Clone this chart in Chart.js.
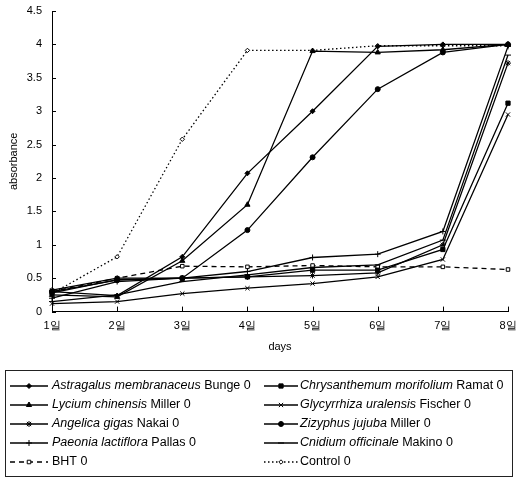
<!DOCTYPE html>
<html>
<head>
<meta charset="utf-8">
<script src="https://cdn.jsdelivr.net/npm/chart.js@4.4.0/dist/chart.umd.min.js"></script>
<style>
  html, body { margin: 0; padding: 0; background: #fff; }
  #wrap { width: 516px; height: 481px; position: relative; }
</style>
</head>
<body>
<div id="wrap"><canvas id="absChart"></canvas></div>
<script>
// Data (absorbance per day)
const days = ["1일", "2일", "3일", "4일", "5일", "6일", "7일", "8일"];
const yTicks = [0, 0.5, 1, 1.5, 2, 2.5, 3, 3.5, 4, 4.5];

const astragalus    = [0.30, 0.24, 0.82, 2.07, 3.00, 3.97, 4.00, 4.00];
const chrysanthemum = [0.28, 0.48, 0.50, 0.52, 0.62, 0.62, 0.93, 3.12];
const lycium        = [0.25, 0.22, 0.76, 1.60, 3.90, 3.88, 3.92, 4.00];
const glycyrrhiza   = [0.12, 0.15, 0.27, 0.35, 0.42, 0.52, 0.78, 2.95];
const angelica      = [0.32, 0.50, 0.50, 0.52, 0.54, 0.58, 1.00, 3.72];
const zizyphus      = [0.30, 0.47, 0.50, 1.22, 2.31, 3.33, 3.88, 4.00];
const paeonia       = [0.20, 0.45, 0.50, 0.60, 0.81, 0.86, 1.20, 3.97];
const cnidium       = [0.15, 0.25, 0.45, 0.55, 0.66, 0.70, 1.07, 3.84];
const bht           = [0.30, 0.50, 0.68, 0.67, 0.69, 0.67, 0.67, 0.63];
const control       = [0.27, 0.82, 2.58, 3.91, 3.91, 3.98, 3.98, 3.98];

// legend text: [italic part, plain part]
const names = [
  ["Astragalus membranaceus", " Bunge 0"],
  ["Chrysanthemum morifolium", " Ramat 0"],
  ["Lycium chinensis", " Miller 0"],
  ["Glycyrrhiza uralensis", " Fischer 0"],
  ["Angelica gigas", " Nakai 0"],
  ["Zizyphus jujuba", " Miller 0"],
  ["Paeonia lactiflora", " Pallas 0"],
  ["Cnidium officinale", " Makino 0"],
  ["", "BHT 0"],
  ["", "Control 0"],
];

const FONT = "'Liberation Sans', Arial, sans-serif";

function series(data, i, style, radius, fill, dash) {
  return {
    label: names[i][0] + names[i][1],
    data: data,
    borderColor: "#000",
    backgroundColor: fill,
    borderWidth: 1.3,
    borderDash: dash || [],
    pointStyle: style,
    pointRadius: radius,
    pointBorderColor: "#000",
    pointBackgroundColor: fill,
    pointBorderWidth: 1,
    tension: 0,
  };
}

const datasets = [
  series(astragalus, 0, "rectRot", 2.5, "#000"),
  series(chrysanthemum, 1, "rect", 3, "#000"),
  series(lycium, 2, "triangle", 3, "#000"),
  series(glycyrrhiza, 3, "crossRot", 3, "#000"),
  series(angelica, 4, "star", 3, "#000"),
  series(zizyphus, 5, "circle", 2.5, "#000"),
  series(paeonia, 6, "cross", 3, "#000"),
  series(cnidium, 7, "line", 3, "#000"),
  series(bht, 8, "rect", 2.5, "#fff", [5, 4]),
  series(control, 9, "rectRot", 2.2, "#fff", [1.5, 2.5]),
];

// small inward tick marks on both axes
const innerTicks = {
  id: "innerTicks",
  afterDraw(chart) {
    const ctx = chart.ctx;
    const xs = chart.scales.x, ys = chart.scales.y;
    ctx.save();
    ctx.strokeStyle = "#000";
    ctx.lineWidth = 1;
    ctx.beginPath();
    xs.ticks.forEach((t, i) => {
      const px = Math.round(xs.getPixelForTick(i)) + 0.5;
      ctx.moveTo(px, ys.bottom);
      ctx.lineTo(px, ys.bottom - 5);
    });
    ys.ticks.forEach((t, i) => {
      const py = Math.round(ys.getPixelForTick(i)) + 0.5;
      ctx.moveTo(xs.left, py);
      ctx.lineTo(xs.left + 4, py);
    });
    ctx.stroke();
    ctx.restore();
  },
};

// boxed two-column legend with line + marker samples
const boxLegend = {
  id: "boxLegend",
  afterDraw(chart) {
    const ctx = chart.ctx;
    const box = { x: 5.5, y: 370.5, w: 507, h: 106 };
    ctx.save();
    ctx.strokeStyle = "#222";
    ctx.lineWidth = 1;
    ctx.strokeRect(box.x, box.y, box.w, box.h);
    const cols = [{ x0: 10, x1: 48, tx: 52 }, { x0: 264, x1: 298, tx: 300 }];
    chart.data.datasets.forEach((ds, i) => {
      const c = cols[i % 2];
      const y = 386 + Math.floor(i / 2) * 19;
      ctx.strokeStyle = "#000";
      ctx.lineWidth = ds.borderWidth;
      ctx.setLineDash(ds.borderDash);
      ctx.beginPath();
      ctx.moveTo(c.x0, y);
      ctx.lineTo(c.x1, y);
      ctx.stroke();
      ctx.setLineDash([]);
      ctx.fillStyle = ds.pointBackgroundColor;
      ctx.strokeStyle = "#000";
      ctx.lineWidth = ds.pointBorderWidth;
      Chart.helpers.drawPoint(ctx, {
        pointStyle: ds.pointStyle,
        radius: ds.pointRadius,
        rotation: 0,
        borderWidth: ds.pointBorderWidth,
      }, (c.x0 + c.x1) / 2, y);
      ctx.fillStyle = "#000";
      ctx.textBaseline = "middle";
      ctx.textAlign = "left";
      let tx = c.tx;
      if (names[i][0]) {
        ctx.font = "italic 12.5px " + FONT;
        ctx.fillText(names[i][0], tx, y);
        tx += ctx.measureText(names[i][0]).width;
      }
      ctx.font = "12.5px " + FONT;
      ctx.fillText(names[i][1], tx, y);
    });
    ctx.restore();
  },
};

const ctx = document.getElementById("absChart");
const absChart = new Chart(ctx, {
  type: "line",
  data: { labels: days, datasets: datasets },
  plugins: [innerTicks, boxLegend],
  options: {
    responsive: true,
    maintainAspectRatio: false,
    animation: false,
    layout: { padding: { top: 0, right: 0, bottom: 127, left: 7 } },
    plugins: {
      legend: { display: false },
      tooltip: { enabled: false },
    },
    scales: {
      x: {
        type: "category",
        offset: false,
        afterFit: (scale) => {
          scale.paddingLeft = 0;
          scale.paddingRight = 8;
        },
        grid: { drawOnChartArea: false, drawTicks: false },
        border: { display: true, color: "#000", width: 1 },
        ticks: {
          color: "#000",
          padding: 8,
          maxRotation: 0,
          font: { family: FONT, size: 11 },
        },
        title: {
          display: true,
          text: "days",
          color: "#000",
          padding: { top: 0, bottom: 0 },
          font: { family: FONT, size: 11 },
        },
      },
      y: {
        min: 0,
        max: 4.5,
        afterBuildTicks: (scale) => {
          scale.ticks = yTicks.map((v) => ({ value: v }));
        },
        afterFit: (scale) => {
          scale.width = 45;
          scale.paddingTop = 11;
        },
        grid: { drawOnChartArea: false, drawTicks: false },
        border: { display: true, color: "#000", width: 1 },
        ticks: {
          color: "#000",
          padding: 10,
          font: { family: FONT, size: 11 },
          callback: (v) => String(v),
        },
        title: {
          display: true,
          text: "absorbance",
          color: "#000",
          padding: { top: 0, bottom: 6 },
          font: { family: FONT, size: 11 },
        },
      },
    },
  },
});
</script>
</body>
</html>
